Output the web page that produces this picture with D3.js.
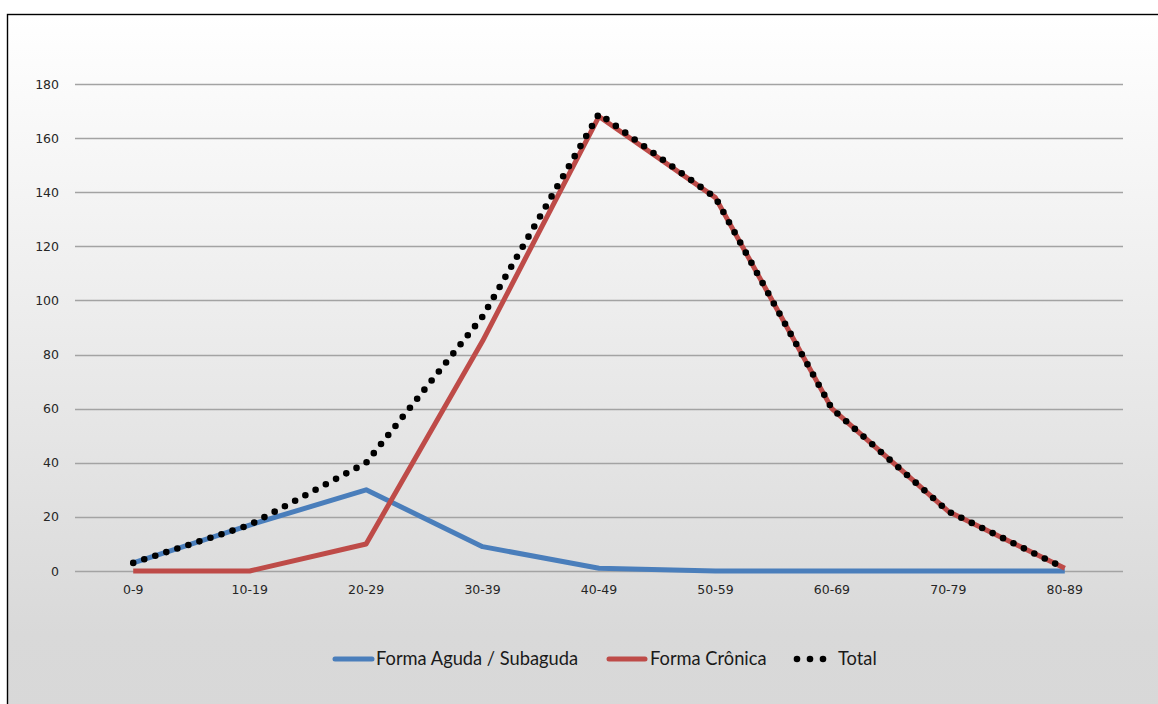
<!DOCTYPE html>
<html>
<head>
<meta charset="utf-8">
<script src="https://cdn.jsdelivr.net/npm/d3@7"></script>
<style>
  html, body { margin: 0; padding: 0; background: #fff; }
  svg { display: block; }
</style>
</head>
<body>
<script>
// Age groups and case counts per clinical form
const categories = ["0-9", "10-19", "20-29", "30-39", "40-49", "50-59", "60-69", "70-79", "80-89"];
const agudaValues = [3, 17, 30, 9, 1, 0, 0, 0, 0];
const cronicaValues = [0, 0, 10, 85, 168, 138, 60, 22, 1];
const totalValues = [3, 17, 40, 94, 169, 138, 60, 22, 1];
const yTicks = [0, 20, 40, 60, 80, 100, 120, 140, 160, 180];

const seriesNames = ["Forma Aguda / Subaguda", "Forma Crônica", "Total"];
const seriesColors = ["#4a7ebb", "#be4b48", "#000000"];

const W = 1158, H = 704;
const svg = d3.select("body").append("svg").attr("width", W).attr("height", H);

// Chart area background: soft vertical gradient
const defs = svg.append("defs");
const grad = defs.append("linearGradient").attr("id", "bg").attr("x1", 0).attr("y1", 0).attr("x2", 0).attr("y2", 1);
grad.append("stop").attr("offset", "0%").attr("stop-color", "#ffffff");
grad.append("stop").attr("offset", "88%").attr("stop-color", "#d9d9d9");
grad.append("stop").attr("offset", "100%").attr("stop-color", "#d8d8d8");

svg.append("rect")
  .attr("x", 7.5).attr("y", 14.5)
  .attr("width", W + 10).attr("height", H)
  .attr("fill", "url(#bg)")
  .attr("stroke", "#000").attr("stroke-width", 1.4);

const x = d3.scaleBand().domain(categories).range([75, 1123]);
const y = d3.scaleLinear().domain([0, 180]).range([571, 84]);
const cx = d => x(d) + x.bandwidth() / 2;

// Horizontal gridlines
svg.append("g")
  .selectAll("line")
  .data(yTicks)
  .join("line")
  .attr("x1", 75).attr("x2", 1123)
  .attr("y1", d => Math.round(y(d)) + 0.5).attr("y2", d => Math.round(y(d)) + 0.5)
  .attr("stroke", "#a3a3a3").attr("stroke-width", 1.3);

// Y axis labels
const yAxis = d3.axisLeft(y).tickValues(yTicks).tickSize(0).tickPadding(0);
svg.append("g")
  .attr("transform", "translate(59,0)")
  .call(yAxis)
  .call(g => g.select(".domain").remove())
  .call(g => g.selectAll("text")
    .attr("font-family", "'DejaVu Sans', Verdana, sans-serif")
    .attr("font-size", 12.5)
    .attr("fill", "#262626"));

// X axis labels
const xAxis = d3.axisBottom(x).tickSize(0).tickPadding(0);
svg.append("g")
  .attr("transform", "translate(0,585)")
  .call(xAxis)
  .call(g => g.select(".domain").remove())
  .call(g => g.selectAll("text")
    .attr("font-family", "'DejaVu Sans', Verdana, sans-serif")
    .attr("font-size", 12.5)
    .attr("fill", "#262626"));

const line = d3.line().x((d, i) => cx(categories[i])).y(d => y(d));

// Series lines
svg.append("path")
  .datum(agudaValues)
  .attr("d", line)
  .attr("fill", "none")
  .attr("stroke", seriesColors[0])
  .attr("stroke-width", 5)
  .attr("stroke-linejoin", "round");

svg.append("path")
  .datum(cronicaValues)
  .attr("d", line)
  .attr("fill", "none")
  .attr("stroke", seriesColors[1])
  .attr("stroke-width", 5)
  .attr("stroke-linejoin", "round");

svg.append("path")
  .datum(totalValues)
  .attr("d", line)
  .attr("fill", "none")
  .attr("stroke", seriesColors[2])
  .attr("stroke-width", 6.6)
  .attr("stroke-linecap", "round")
  .attr("stroke-dasharray", "0 11.6");

// Legend
const legendY = 659;
const legend = svg.append("g").attr("font-family", "Lato, 'Open Sans', sans-serif").attr("font-size", 18.3).attr("fill", "#1a1a1a");
const legendItems = [
  { name: seriesNames[0], color: seriesColors[0], x0: 335, x1: 372, tx: 376, dotted: false },
  { name: seriesNames[1], color: seriesColors[1], x0: 609, x1: 645, tx: 650, dotted: false },
  { name: seriesNames[2], color: seriesColors[2], x0: 797, x1: 823, tx: 838, dotted: true }
];
legendItems.forEach(it => {
  if (it.dotted) {
    // three dots standing in for the dotted series
    legend.selectAll(null)
      .data([0, 1, 2])
      .join("circle")
      .attr("cx", i => it.x0 + i * (it.x1 - it.x0) / 2)
      .attr("cy", legendY)
      .attr("r", 3.3)
      .attr("fill", it.color);
  } else {
    legend.append("line")
      .attr("x1", it.x0).attr("x2", it.x1)
      .attr("y1", legendY).attr("y2", legendY)
      .attr("stroke", it.color)
      .attr("stroke-linecap", "round")
      .attr("stroke-width", 5);
  }
  legend.append("text")
    .attr("x", it.tx).attr("y", legendY)
    .attr("dy", "0.35em")
    .text(it.name);
});
</script>
</body>
</html>
